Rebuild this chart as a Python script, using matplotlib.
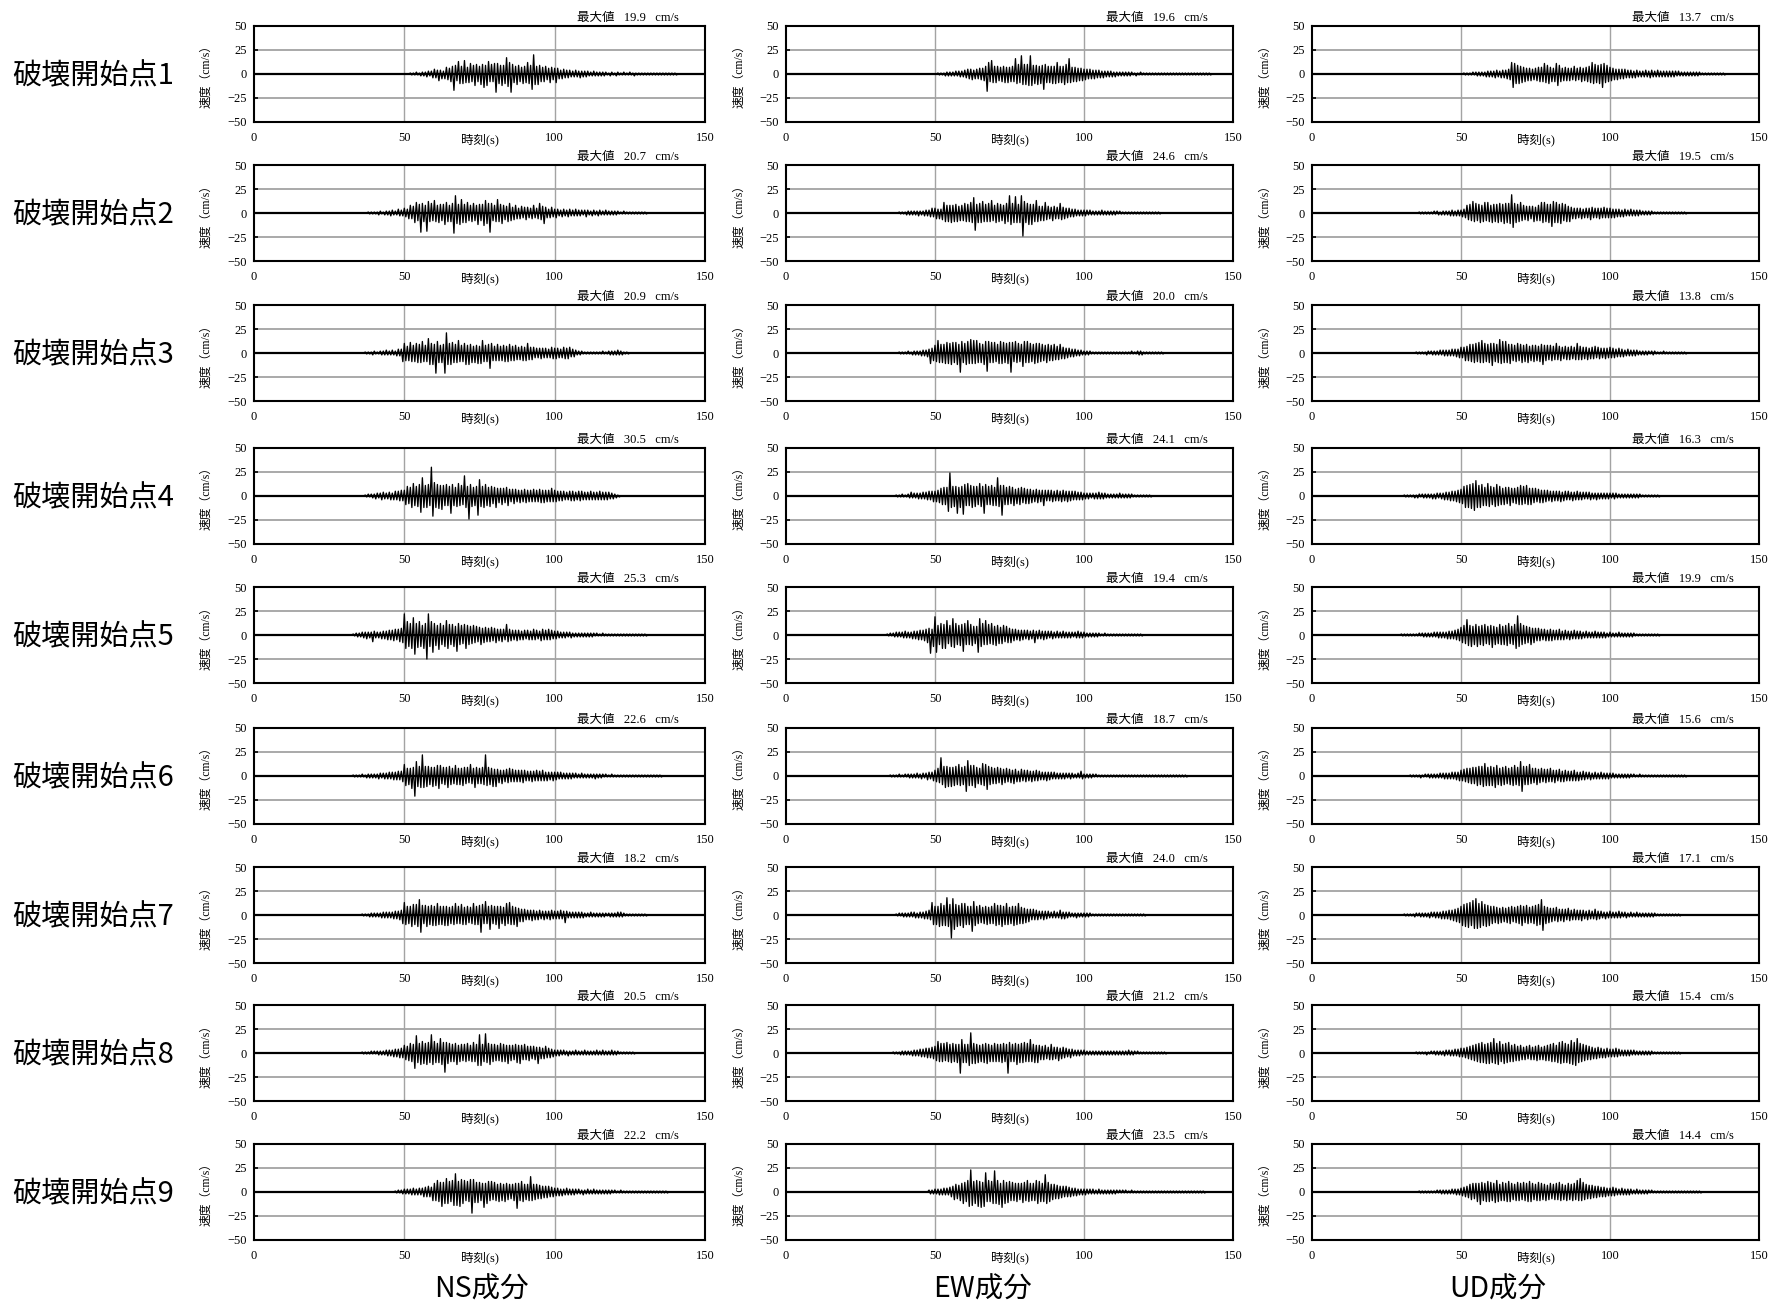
import numpy as np
import matplotlib
matplotlib.use("Agg")
import matplotlib.pyplot as plt

# ---------------- data ----------------
# Each trace: velocity peaks (cm/s), one upper and one lower
# peak per second (0.5 s step), starting at the given start time (s).
row_labels = ["破壊開始点1", "破壊開始点2", "破壊開始点3", "破壊開始点4", "破壊開始点5",
              "破壊開始点6", "破壊開始点7", "破壊開始点8", "破壊開始点9"]
col_labels = ["NS成分", "EW成分", "UD成分"]
x_ticks = [0, 50, 100, 150]
y_ticks = [-50, -25, 0, 25, 50]
y_tick_labels = ["−50", "−25", "0", "25", "50"]

ns_max = [19.9, 20.7, 20.9, 30.5, 25.3, 22.6, 18.2, 20.5, 22.2]
ew_max = [19.6, 24.6, 20.0, 24.1, 19.4, 18.7, 24.0, 21.2, 23.5]
ud_max = [13.7, 19.5, 13.8, 16.3, 19.9, 15.6, 17.1, 15.4, 14.4]

ns_start = [52, 38, 37, 37, 33, 33, 36, 36, 47]
ew_start = [51, 38, 38, 37, 34, 35, 37, 36, 48]
ud_start = [51, 36, 35, 31, 30, 33, 31, 35, 36]

ns_1 = [1,-1, 1,-1, 2,-1, 1,-2, 2,-2, 2,-3, 3,-2, 3,-4,
        5,-4, 4,-7, 4,-5, 3,-5, 7,-6, 6,-8, 8,-17, 9,-7, 13,-10, 8,-10,
        14,-9, 7,-9, 11,-8, 9,-12, 10,-8, 8,-11, 10,-14, 9,-12, 13,-8, 10,-8,
        11,-19, 11,-10, 9,-12, 9,-10, 17,-13, 12,-19, 10,-9, 8,-11, 9,-8, 7,-10,
        8,-9, 12,-10, 9,-16, 20,-11, 8,-11, 9,-8, 7,-8, 8,-6, 6,-9, 7,-6,
        6,-9, 6,-5, 4,-5, 5,-4, 4,-4, 4,-3, 3,-3, 4,-3, 3,-4, 3,-3,
        3,-3, 3,-2, 2,-2, 3,-2, 2,-2, 2,-2, 2,-2, 2,-1, 1,-2, 2,-1,
        1,-2, 2,-1, 1,-1, 2,-1, 1,-1, 2,-1, 1,-2, 1,-1, 1,-1, 1,-1,
        1,-1, 1,-1, 1,-1, 1,-1, 1,-1, 1,-1, 1,-1, 1,-1, 1,-1, 1,-1, 1,-1]
ns_2 = [1,-1, 1,-1, 1,-1, 1,-2, 2,-1, 1,-2, 2,-2, 2,-3, 3,-2, 2,-2, 4,-3, 3,-3,
        5,-4, 4,-6, 8,-6, 7,-10, 11,-8, 9,-20, 10,-9, 8,-19, 12,-9, 10,-8,
        13,-9, 8,-10, 9,-8, 9,-12, 11,-9, 8,-9, 10,-21, 18,-11, 9,-12, 14,-10,
        9,-10, 11,-8, 8,-9, 10,-8, 8,-12, 9,-8, 9,-13, 13,-11, 10,-20, 10,-8,
        8,-9, 14,-9, 9,-11, 8,-7, 7,-9, 10,-8, 6,-7, 8,-6, 5,-6, 7,-5,
        6,-7, 6,-5, 5,-6, 8,-5, 5,-6, 10,-7, 7,-11, 6,-5, 4,-5, 6,-4,
        4,-5, 4,-3, 3,-4, 4,-3, 3,-4, 4,-3, 3,-3, 4,-3, 3,-3, 3,-2,
        3,-4, 3,-2, 2,-3, 3,-2, 2,-3, 3,-2, 2,-2, 3,-2, 2,-2, 2,-2,
        2,-2, 2,-1, 1,-1, 2,-1, 1,-1, 1,-1, 1,-1, 1,-1, 1,-1, 1,-1, 1,-1]
ns_3 = [1,-1, 1,-1, 1,-2, 2,-1, 1,-1, 2,-2, 2,-2, 3,-2, 2,-2, 3,-2, 2,-3, 4,-3, 4,-9,
        10,-8, 7,-8, 11,-9, 8,-9, 10,-10, 9,-10, 12,-9, 8,-9, 15,-12, 10,-12,
        9,-21, 12,-10, 8,-10, 9,-21, 21,-12, 10,-12, 11,-10, 9,-10, 13,-9, 8,-9,
        10,-12, 8,-12, 9,-10, 7,-10, 8,-11, 7,-11, 13,-9, 8,-9, 9,-16, 10,-8,
        7,-8, 9,-8, 7,-8, 8,-9, 7,-9, 9,-8, 7,-8, 8,-7, 6,-7, 7,-8,
        6,-8, 10,-7, 6,-7, 6,-5, 5,-5, 5,-6, 5,-5, 5,-5, 4,-5, 6,-6,
        5,-6, 5,-5, 4,-5, 6,-6, 5,-6, 6,-4, 4,-4, 3,-2, 2,-2, 2,-1,
        1,-1, 1,-1, 1,-1, 1,-1, 1,-1, 1,-1, 2,-1, 1,-1, 2,-2, 2,-2,
        2,-2, 3,-2, 2,-2, 1,-1, 1,-1]
ns_4 = [1,-1, 2,-1, 2,-2, 2,-3, 3,-2, 3,-4, 4,-3, 3,-3, 4,-4, 3,-4,
        5,-4, 5,-5, 6,-5, 6,-9, 10,-8, 9,-12, 13,-10, 10,-11, 12,-17, 19,-12,
        11,-12, 12,-10, 30,-21, 14,-12, 12,-13, 11,-14, 11,-10, 12,-10, 10,-18, 12,-10,
        9,-11, 13,-10, 11,-9, 21,-12, 10,-24, 12,-11, 9,-10, 10,-20, 17,-11, 10,-12,
        12,-10, 9,-11, 10,-8, 9,-12, 8,-7, 8,-9, 8,-7, 9,-10, 7,-6, 7,-8,
        7,-6, 6,-7, 6,-6, 7,-7, 6,-6, 6,-6, 7,-6, 6,-6, 7,-7, 6,-7,
        6,-6, 6,-6, 8,-6, 6,-6, 5,-5, 5,-5, 5,-4, 4,-4, 5,-5, 5,-5,
        4,-4, 5,-5, 5,-4, 4,-4, 4,-4, 5,-4, 4,-4, 4,-4, 5,-4, 4,-4,
        4,-4, 4,-3, 3,-3, 2,-2, 1,-1]
ns_5 = [1,-1, 2,-2, 2,-2, 3,-3, 3,-4, 3,-3, 3,-7, 4,-3, 3,-3, 3,-4,
        4,-4, 4,-5, 5,-5, 5,-6, 6,-5, 6,-7, 7,-8, 22,-14, 14,-12, 12,-14,
        18,-20, 12,-13, 14,-12, 10,-14, 12,-25, 22,-12, 14,-18, 12,-11, 10,-15, 12,-10,
        10,-12, 15,-14, 11,-10, 11,-12, 9,-17, 12,-10, 10,-9, 11,-14, 10,-10, 9,-9,
        10,-8, 9,-7, 8,-10, 7,-8, 8,-7, 7,-7, 8,-6, 7,-8, 6,-6, 6,-7,
        6,-5, 11,-7, 6,-6, 5,-5, 5,-6, 5,-5, 4,-5, 5,-4, 5,-5, 4,-5,
        6,-5, 5,-4, 4,-6, 6,-5, 5,-5, 6,-5, 5,-4, 4,-4, 4,-3, 3,-3,
        3,-3, 3,-2, 3,-3, 2,-2, 2,-2, 2,-2, 2,-2, 2,-2, 2,-2, 2,-2,
        2,-1, 2,-1, 1,-1, 2,-1, 1,-1, 1,-1, 1,-1, 1,-1, 1,-1, 1,-1,
        1,-1, 1,-1, 1,-1, 1,-1, 1,-1, 1,-1, 1,-1, 1,-1]
ns_6 = [1,-1, 1,-1, 1,-1, 2,-1, 1,-2, 2,-2, 2,-2, 2,-2, 2,-3, 3,-2,
        3,-3, 3,-3, 4,-3, 4,-4, 4,-4, 5,-4, 5,-6, 12,-10, 8,-9, 8,-13,
        9,-21, 15,-11, 10,-12, 22,-12, 10,-11, 10,-9, 9,-11, 9,-10, 11,-13, 11,-8,
        9,-9, 9,-12, 10,-9, 8,-8, 11,-9, 8,-9, 8,-10, 9,-8, 9,-7, 12,-8,
        8,-12, 9,-8, 8,-8, 9,-9, 22,-10, 9,-9, 8,-11, 7,-11, 7,-7, 6,-8,
        6,-6, 7,-7, 8,-6, 7,-6, 6,-6, 6,-6, 6,-7, 6,-5, 5,-5, 5,-6,
        5,-5, 6,-5, 5,-5, 6,-5, 4,-5, 4,-4, 4,-5, 4,-4, 4,-3, 4,-3,
        3,-3, 3,-3, 3,-3, 3,-2, 3,-2, 2,-2, 3,-2, 2,-2, 2,-2, 2,-2,
        2,-3, 2,-2, 2,-2, 2,-1, 2,-1, 1,-1, 2,-1, 1,-1, 1,-1, 1,-1,
        1,-1, 1,-1, 1,-1, 1,-1, 1,-1, 1,-1, 1,-1, 1,-1, 1,-1, 1,-1, 1,-1, 1,-1, 1,-1]
ns_7 = [1,-1, 1,-1, 1,-2, 2,-2, 2,-2, 2,-2, 2,-3, 3,-3, 3,-3, 3,-3,
        3,-4, 4,-4, 4,-5, 5,-9, 13,-10, 9,-9, 9,-12, 11,-10, 11,-12, 16,-18,
        10,-9, 10,-12, 9,-10, 10,-11, 9,-11, 12,-10, 9,-10, 9,-11, 9,-11, 8,-9,
        9,-10, 12,-9, 9,-9, 11,-10, 8,-10, 9,-8, 8,-9, 12,-10, 9,-10, 10,-18,
        11,-9, 14,-9, 9,-15, 10,-9, 9,-10, 9,-14, 9,-9, 8,-11, 12,-9, 13,-10,
        9,-10, 8,-12, 7,-7, 6,-7, 6,-5, 5,-5, 5,-6, 5,-5, 4,-5, 5,-4,
        4,-5, 4,-4, 4,-5, 5,-4, 4,-4, 4,-4, 5,-4, 4,-8, 4,-3, 3,-3,
        3,-3, 3,-3, 3,-3, 3,-3, 2,-2, 2,-2, 3,-2, 2,-2, 2,-2, 2,-2,
        2,-2, 2,-1, 2,-2, 2,-2, 2,-2, 3,-2, 3,-2, 2,-1, 1,-1, 1,-1,
        1,-1, 1,-1, 1,-1, 1,-1, 1,-1]
ns_8 = [1,-1, 1,-1, 1,-1, 2,-1, 2,-1, 2,-2, 2,-2, 2,-2, 3,-3, 3,-3,
        3,-4, 4,-4, 4,-5, 5,-5, 8,-7, 7,-8, 10,-9, 9,-16, 18,-10, 10,-12,
        12,-11, 10,-12, 11,-10, 19,-12, 12,-10, 10,-10, 15,-12, 11,-20, 11,-11, 10,-9,
        9,-9, 10,-12, 8,-9, 9,-8, 9,-9, 10,-8, 8,-9, 11,-9, 9,-13, 19,-13,
        9,-9, 20,-10, 10,-12, 9,-9, 9,-8, 8,-8, 10,-9, 9,-9, 8,-11, 8,-8,
        8,-7, 9,-10, 8,-11, 8,-7, 9,-7, 7,-8, 7,-6, 7,-7, 6,-11, 6,-6,
        5,-6, 7,-5, 5,-5, 4,-4, 3,-3, 3,-3, 3,-2, 3,-2, 2,-3, 2,-2,
        2,-2, 3,-2, 2,-2, 2,-2, 3,-2, 2,-2, 2,-2, 2,-2, 3,-2, 2,-2,
        3,-2, 2,-2, 2,-2, 3,-2, 2,-2, 2,-1, 1,-1, 1,-1, 1,-1, 1,-1, 1,-1]
ns_9 = [1,-1, 2,-1, 2,-2, 3,-2, 3,-2, 3,-3, 4,-3, 3,-3, 4,-3, 4,-5,
        5,-5, 6,-5, 5,-9, 9,-9, 12,-10, 10,-15, 10,-12, 14,-12, 11,-10, 12,-14,
        19,-14, 11,-15, 13,-12, 12,-9, 11,-10, 13,-22, 13,-11, 10,-11, 10,-9, 9,-16,
        9,-12, 11,-9, 11,-8, 10,-9, 8,-10, 9,-9, 8,-10, 9,-8, 8,-7, 8,-9,
        9,-17, 9,-9, 11,-10, 8,-8, 8,-9, 16,-9, 8,-8, 8,-7, 7,-7, 6,-6,
        6,-6, 6,-5, 5,-5, 4,-4, 4,-4, 3,-4, 3,-3, 4,-3, 3,-3, 3,-3,
        3,-2, 3,-2, 2,-3, 2,-2, 3,-2, 2,-2, 3,-2, 2,-2, 2,-2, 2,-2,
        2,-2, 2,-2, 2,-1, 2,-1, 1,-1, 2,-1, 1,-1, 1,-1, 1,-1, 1,-1,
        1,-1, 1,-1, 1,-1, 1,-1, 1,-1, 1,-1, 1,-1, 1,-1, 1,-1, 1,-1, 1,-1]

ew_1 = [1,-1, 1,-1, 1,-2, 2,-2, 2,-2, 2,-2, 3,-2, 3,-3, 3,-3, 4,-4,
        5,-5, 5,-6, 4,-5, 5,-5, 6,-6, 6,-7, 8,-18, 12,-8, 14,-9, 8,-9,
        8,-7, 7,-8, 8,-9, 7,-9, 7,-8, 8,-8, 16,-10, 10,-9, 19,-11, 10,-11,
        10,-12, 19,-12, 9,-10, 9,-11, 8,-10, 9,-16, 10,-9, 8,-9, 8,-10, 8,-10,
        12,-9, 8,-9, 8,-11, 10,-9, 16,-9, 7,-8, 7,-8, 6,-7, 6,-7, 5,-6,
        5,-5, 5,-5, 4,-5, 4,-4, 4,-4, 3,-4, 3,-3, 3,-3, 3,-3, 2,-3,
        2,-2, 2,-2, 2,-2, 2,-2, 2,-2, 2,-1, 1,-2, 1,-1, 2,-1, 1,-1,
        1,-1, 1,-1, 1,-1, 1,-1, 1,-1, 1,-1, 1,-1, 1,-1, 1,-1, 1,-1,
        1,-1, 1,-1, 1,-1, 1,-1, 1,-1, 1,-1, 1,-1, 1,-1, 1,-1, 1,-1, 1,-1, 1,-1]
ew_2 = [1,-1, 1,-1, 1,-2, 2,-2, 2,-2, 2,-2, 2,-3, 2,-2, 2,-3, 3,-3,
        3,-4, 5,-4, 5,-6, 4,-6, 4,-7, 11,-9, 8,-9, 8,-10, 8,-9, 9,-9,
        7,-8, 8,-8, 10,-9, 9,-9, 11,-10, 16,-18, 9,-10, 10,-10, 12,-9, 9,-9,
        10,-9, 13,-8, 8,-10, 10,-9, 9,-8, 8,-11, 10,-9, 18,-12, 10,-10, 17,-10,
        9,-10, 18,-24, 12,-10, 10,-12, 9,-12, 9,-9, 13,-9, 7,-8, 7,-8, 11,-7,
        7,-6, 6,-8, 7,-6, 6,-6, 10,-7, 6,-6, 5,-5, 5,-4, 4,-4, 4,-3,
        3,-3, 3,-3, 3,-3, 3,-2, 3,-2, 2,-2, 2,-2, 2,-2, 3,-2, 2,-2,
        2,-2, 2,-2, 2,-2, 2,-1, 2,-1, 1,-1, 1,-1, 1,-1, 1,-1, 1,-1,
        1,-1, 1,-1, 1,-1, 1,-1, 1,-1, 1,-1, 1,-1, 1,-1]
ew_3 = [1,-1, 1,-1, 1,-1, 2,-1, 1,-2, 2,-2, 2,-2, 2,-3, 3,-3, 3,-4,
        4,-11, 5,-8, 8,-9, 13,-10, 9,-10, 9,-11, 11,-11, 10,-12, 11,-10, 11,-12,
        9,-20, 12,-10, 10,-12, 12,-11, 14,-11, 13,-11, 13,-10, 10,-10, 9,-12, 12,-19,
        12,-10, 11,-10, 11,-9, 9,-11, 12,-11, 11,-10, 10,-11, 11,-20, 11,-9, 12,-10,
        10,-9, 9,-14, 12,-10, 12,-10, 10,-9, 9,-11, 10,-10, 10,-9, 9,-8, 8,-10,
        9,-8, 8,-8, 9,-7, 7,-7, 9,-6, 6,-6, 5,-5, 5,-4, 4,-4, 4,-3,
        3,-3, 3,-2, 2,-2, 2,-2, 2,-1, 1,-1, 1,-1, 1,-1, 1,-1, 1,-1,
        1,-1, 1,-1, 1,-1, 1,-1, 1,-1, 1,-1, 1,-1, 1,-1, 2,-1, 1,-1,
        2,-2, 2,-2, 1,-1, 1,-1, 1,-1, 1,-1, 1,-1, 1,-1, 1,-1]
ew_4 = [1,-1, 1,-1, 2,-1, 1,-1, 2,-2, 4,-2, 3,-2, 3,-3, 3,-3, 4,-3,
        4,-4, 5,-4, 5,-6, 5,-6, 6,-7, 8,-9, 9,-9, 9,-16, 24,-12, 10,-11,
        10,-18, 9,-12, 10,-19, 12,-10, 13,-10, 11,-12, 10,-11, 10,-9, 13,-11, 10,-18,
        12,-9, 10,-9, 11,-10, 9,-10, 19,-11, 11,-20, 11,-9, 9,-9, 10,-8, 9,-10,
        7,-8, 8,-9, 9,-7, 8,-8, 7,-8, 7,-7, 6,-6, 7,-7, 6,-6, 6,-10,
        6,-5, 6,-5, 6,-6, 5,-5, 6,-5, 5,-6, 6,-5, 5,-6, 5,-5, 5,-4,
        5,-4, 4,-4, 4,-4, 3,-3, 3,-3, 3,-2, 3,-3, 3,-3, 4,-3, 3,-3,
        3,-2, 2,-2, 2,-2, 2,-2, 2,-2, 3,-2, 2,-2, 2,-2, 2,-2, 2,-1,
        1,-1, 1,-1, 1,-1, 1,-1, 1,-1, 1,-1]
ew_5 = [1,-1, 2,-1, 2,-2, 3,-2, 3,-2, 3,-3, 4,-3, 3,-3, 3,-4, 4,-4,
        4,-5, 5,-5, 5,-6, 6,-8, 7,-19, 6,-12, 19,-18, 10,-10, 12,-14, 11,-14,
        15,-9, 10,-12, 17,-13, 12,-10, 10,-11, 11,-17, 12,-10, 15,-10, 11,-11, 9,-9,
        9,-18, 17,-12, 12,-10, 15,-10, 11,-9, 12,-10, 9,-11, 10,-9, 8,-9, 10,-7,
        9,-8, 7,-8, 6,-6, 6,-5, 5,-6, 5,-5, 5,-4, 5,-5, 4,-4, 5,-8,
        4,-4, 5,-4, 4,-5, 4,-4, 4,-3, 4,-4, 3,-3, 4,-3, 3,-3, 4,-3,
        3,-3, 3,-3, 3,-2, 3,-3, 4,-3, 3,-3, 3,-2, 2,-2, 2,-2, 2,-2,
        2,-2, 2,-1, 1,-1, 2,-1, 1,-1, 1,-1, 1,-1, 1,-1, 1,-1, 1,-1,
        1,-1, 1,-1, 1,-1, 1,-1, 1,-1, 1,-1]
ew_6 = [1,-1, 1,-1, 1,-1, 2,-1, 1,-1, 2,-1, 2,-2, 2,-2, 2,-2, 3,-2,
        2,-3, 3,-2, 3,-4, 4,-3, 4,-5, 6,-6, 8,-7, 19,-9, 10,-12, 10,-11,
        9,-11, 9,-10, 10,-9, 12,-10, 9,-9, 10,-16, 16,-10, 11,-10, 11,-12, 9,-8,
        8,-9, 13,-10, 12,-14, 10,-9, 9,-8, 8,-8, 9,-7, 8,-9, 7,-7, 8,-6,
        7,-7, 6,-8, 7,-6, 5,-6, 7,-5, 6,-6, 6,-5, 5,-6, 5,-5, 6,-5,
        5,-4, 4,-4, 4,-5, 4,-4, 4,-3, 4,-3, 3,-3, 3,-3, 3,-3, 3,-2,
        3,-3, 3,-2, 2,-2, 3,-2, 5,-3, 2,-2, 2,-2, 2,-2, 2,-1, 2,-1,
        1,-1, 1,-1, 1,-1, 1,-1, 1,-1, 1,-1, 1,-1, 1,-1, 1,-1, 1,-1,
        1,-1, 1,-1, 1,-1, 1,-1, 1,-1, 1,-1, 1,-1, 1,-1, 1,-1, 1,-1,
        1,-1, 1,-1, 1,-1, 1,-1, 1,-1, 1,-1, 1,-1, 1,-1, 1,-1, 1,-1]
ew_7 = [1,-1, 2,-1, 2,-2, 2,-2, 2,-2, 3,-2, 3,-3, 2,-3, 3,-3, 3,-4,
        4,-4, 5,-5, 13,-10, 9,-10, 9,-12, 12,-11, 10,-11, 18,-12, 11,-24, 17,-15,
        11,-12, 10,-11, 12,-13, 12,-10, 9,-10, 9,-17, 14,-11, 9,-9, 10,-8, 8,-9,
        9,-10, 8,-9, 9,-9, 12,-11, 10,-10, 10,-12, 9,-10, 12,-10, 8,-9, 9,-11,
        9,-10, 12,-9, 8,-9, 7,-8, 6,-7, 6,-5, 6,-5, 5,-5, 4,-4, 4,-5,
        4,-4, 4,-3, 3,-3, 4,-3, 3,-3, 5,-4, 3,-4, 3,-3, 3,-2, 2,-2,
        2,-3, 2,-2, 2,-2, 2,-2, 2,-2, 2,-1, 1,-1, 1,-1, 1,-1, 1,-1,
        1,-1, 1,-1, 1,-1, 1,-1, 1,-1, 1,-1, 1,-1, 1,-1, 1,-1, 1,-1,
        1,-1, 1,-1, 1,-1, 1,-1]
ew_8 = [1,-1, 1,-1, 1,-2, 2,-2, 2,-2, 2,-2, 2,-3, 3,-3, 3,-3, 4,-4,
        4,-4, 5,-5, 5,-5, 6,-6, 7,-8, 12,-9, 10,-9, 10,-8, 11,-9, 9,-10,
        10,-9, 9,-10, 9,-21, 14,-10, 9,-10, 9,-13, 21,-11, 10,-11, 9,-10, 8,-9,
        9,-10, 10,-11, 9,-9, 8,-9, 10,-9, 9,-9, 9,-10, 10,-9, 9,-21, 11,-9,
        9,-9, 10,-12, 9,-10, 10,-10, 11,-9, 10,-9, 14,-9, 9,-10, 8,-10, 8,-7,
        7,-7, 8,-6, 6,-7, 9,-7, 6,-6, 6,-8, 5,-6, 6,-5, 5,-4, 4,-5,
        4,-3, 3,-3, 3,-3, 3,-2, 3,-2, 2,-2, 2,-2, 2,-2, 2,-2, 2,-2,
        2,-2, 2,-2, 2,-2, 2,-2, 2,-2, 2,-2, 2,-2, 2,-2, 2,-2, 3,-2,
        2,-2, 2,-1, 2,-1, 1,-1, 1,-1, 1,-1, 1,-1, 1,-1, 1,-1, 1,-1, 1,-1, 1,-1]
ew_9 = [2,-2, 2,-2, 3,-2, 3,-3, 3,-3, 4,-3, 4,-3, 5,-5, 6,-8, 8,-7,
        7,-9, 9,-12, 10,-10, 12,-15, 23,-14, 11,-12, 12,-15, 11,-16, 10,-15, 20,-10,
        12,-10, 11,-12, 22,-12, 12,-13, 9,-16, 12,-12, 10,-11, 11,-9, 10,-9, 9,-10,
        9,-8, 9,-11, 10,-9, 12,-10, 9,-9, 9,-9, 12,-12, 11,-10, 9,-10, 18,-12,
        10,-10, 8,-8, 8,-7, 7,-7, 6,-6, 6,-5, 6,-5, 5,-5, 4,-4, 4,-4,
        3,-3, 3,-3, 3,-3, 3,-2, 3,-2, 3,-2, 2,-2, 3,-2, 2,-2, 2,-2,
        2,-2, 2,-2, 2,-2, 2,-1, 2,-1, 2,-1, 2,-1, 1,-1, 2,-1, 1,-1,
        1,-1, 1,-1, 1,-1, 1,-1, 1,-1, 1,-1, 1,-1, 1,-1, 1,-1, 1,-1,
        1,-1, 1,-1, 1,-1, 1,-1, 1,-1, 1,-1, 1,-1, 1,-1, 1,-1, 1,-1,
        1,-1, 1,-1, 1,-1]

ud_1 = [1,-1, 1,-1, 1,-1, 2,-1, 2,-2, 2,-2, 2,-2, 2,-3, 3,-3, 3,-3,
        3,-4, 4,-3, 3,-4, 4,-4, 4,-5, 5,-6, 12,-14, 11,-10, 9,-10, 8,-9,
        7,-8, 6,-7, 6,-7, 5,-6, 6,-7, 7,-8, 7,-8, 11,-9, 9,-10, 7,-8,
        6,-8, 11,-12, 9,-8, 6,-7, 7,-7, 6,-7, 6,-6, 8,-7, 6,-6, 7,-8,
        6,-7, 7,-8, 8,-9, 12,-10, 10,-9, 9,-10, 10,-14, 11,-9, 9,-8, 7,-7,
        6,-6, 5,-6, 5,-5, 5,-5, 5,-4, 4,-4, 4,-4, 3,-4, 4,-3, 3,-3,
        3,-3, 4,-3, 3,-4, 4,-3, 3,-3, 4,-3, 3,-3, 3,-3, 3,-3, 3,-3,
        3,-3, 3,-2, 3,-2, 2,-2, 2,-2, 2,-2, 2,-2, 2,-2, 2,-2, 2,-1,
        1,-1, 1,-1, 1,-1, 1,-1, 1,-1, 1,-1, 1,-1, 1,-1]
ud_2 = [1,-1, 1,-1, 1,-1, 1,-1, 1,-1, 2,-1, 2,-2, 1,-2, 2,-2, 2,-2,
        2,-3, 3,-3, 2,-3, 3,-3, 3,-4, 4,-5, 8,-7, 9,-8, 12,-9, 10,-8,
        9,-10, 8,-9, 11,-8, 11,-9, 8,-10, 9,-9, 9,-10, 10,-9, 9,-11, 10,-10,
        10,-11, 19,-15, 10,-10, 9,-9, 11,-8, 8,-7, 7,-8, 7,-6, 7,-9, 6,-8,
        8,-8, 11,-10, 11,-9, 9,-10, 9,-14, 12,-10, 11,-10, 9,-11, 10,-8, 9,-9,
        7,-9, 6,-6, 5,-6, 5,-5, 5,-6, 4,-5, 5,-5, 5,-7, 6,-5, 5,-5,
        5,-6, 5,-5, 6,-5, 5,-5, 5,-5, 4,-5, 4,-4, 4,-4, 3,-4, 4,-3,
        3,-3, 4,-3, 3,-3, 3,-3, 3,-2, 2,-2, 2,-2, 2,-2, 2,-1, 1,-1,
        1,-1, 1,-1, 1,-1, 1,-1, 1,-1, 1,-1, 1,-1, 1,-1, 1,-1, 1,-1]
ud_3 = [1,-1, 1,-1, 1,-1, 1,-2, 2,-1, 2,-2, 2,-2, 2,-2, 3,-2, 3,-3,
        3,-3, 3,-3, 4,-3, 4,-4, 4,-5, 6,-5, 6,-8, 7,-8, 9,-9, 9,-10,
        10,-9, 11,-10, 13,-10, 10,-9, 9,-10, 10,-13, 10,-9, 9,-10, 14,-11, 12,-10,
        12,-10, 9,-11, 9,-8, 8,-9, 10,-8, 9,-10, 8,-9, 9,-10, 7,-8, 8,-9,
        8,-8, 7,-9, 9,-12, 8,-8, 8,-7, 8,-8, 7,-7, 10,-7, 7,-8, 6,-6,
        7,-7, 6,-7, 7,-6, 6,-7, 10,-7, 7,-7, 6,-6, 6,-7, 5,-6, 6,-6,
        7,-5, 6,-6, 5,-5, 5,-6, 5,-5, 6,-5, 5,-5, 4,-4, 5,-4, 4,-4,
        3,-3, 4,-3, 3,-3, 3,-3, 3,-2, 2,-2, 2,-2, 2,-2, 2,-1, 2,-2,
        2,-1, 1,-1, 1,-1, 2,-1, 1,-1, 1,-1, 1,-1, 1,-1, 1,-1, 1,-1, 1,-1]
ud_4 = [1,-1, 1,-1, 1,-1, 1,-2, 1,-2, 2,-1, 2,-2, 2,-2, 2,-2, 2,-3,
        2,-3, 3,-2, 3,-3, 3,-4, 4,-4, 4,-5, 5,-5, 5,-6, 6,-7, 7,-8,
        10,-12, 11,-12, 12,-13, 13,-15, 16,-12, 11,-12, 12,-10, 9,-10, 13,-11, 10,-9,
        9,-11, 12,-10, 10,-9, 8,-9, 9,-8, 9,-10, 8,-7, 8,-8, 9,-9, 11,-9,
        10,-8, 11,-9, 8,-9, 8,-7, 8,-6, 7,-7, 6,-7, 6,-6, 6,-5, 5,-6,
        5,-5, 5,-5, 5,-6, 4,-5, 5,-4, 5,-4, 4,-5, 4,-4, 5,-4, 4,-4,
        4,-3, 4,-3, 4,-4, 3,-3, 3,-4, 3,-3, 3,-3, 3,-3, 3,-3, 3,-2,
        3,-3, 3,-2, 2,-2, 2,-2, 2,-2, 2,-2, 2,-2, 2,-2, 2,-2, 2,-1,
        1,-1, 1,-1, 1,-1, 1,-1, 1,-1, 1,-1]
ud_5 = [1,-1, 1,-1, 1,-1, 1,-1, 1,-1, 1,-1, 2,-1, 2,-2, 2,-2, 2,-2,
        2,-2, 3,-2, 3,-3, 3,-3, 3,-3, 3,-4, 4,-4, 4,-4, 5,-5, 6,-6,
        8,-8, 10,-9, 16,-11, 10,-12, 9,-10, 11,-12, 9,-10, 10,-11, 11,-9, 9,-10,
        10,-13, 9,-10, 8,-9, 11,-10, 9,-10, 10,-11, 12,-9, 9,-10, 11,-14, 20,-12,
        12,-10, 10,-9, 9,-8, 8,-10, 7,-8, 7,-6, 7,-6, 6,-5, 6,-6, 5,-6,
        6,-6, 5,-5, 5,-5, 6,-5, 4,-5, 5,-4, 4,-5, 4,-4, 5,-4, 4,-4,
        4,-4, 3,-3, 4,-3, 3,-3, 3,-3, 4,-3, 3,-3, 3,-3, 3,-3, 2,-2,
        3,-2, 2,-2, 2,-2, 3,-2, 2,-2, 2,-2, 2,-2, 2,-2, 2,-1, 1,-1,
        1,-1, 1,-1, 1,-1, 1,-1, 1,-1, 1,-1, 1,-1]
ud_6 = [1,-1, 1,-1, 1,-1, 1,-2, 1,-1, 2,-1, 2,-2, 2,-2, 2,-2, 2,-2,
        3,-2, 3,-3, 3,-3, 3,-3, 4,-3, 4,-4, 4,-5, 6,-5, 7,-6, 8,-7,
        8,-8, 9,-8, 9,-10, 10,-9, 10,-11, 13,-10, 9,-10, 10,-10, 9,-12, 11,-9,
        8,-10, 9,-9, 10,-8, 8,-9, 9,-10, 11,-9, 9,-10, 15,-16, 10,-9, 10,-9,
        12,-8, 8,-7, 8,-9, 7,-7, 8,-6, 7,-7, 7,-6, 8,-6, 6,-7, 6,-5,
        7,-6, 5,-6, 6,-5, 5,-5, 5,-5, 6,-5, 4,-5, 4,-4, 5,-4, 4,-3,
        4,-4, 3,-3, 4,-3, 3,-3, 4,-3, 3,-3, 3,-3, 3,-2, 3,-2, 2,-2,
        2,-2, 2,-2, 2,-2, 2,-2, 2,-1, 2,-1, 1,-1, 2,-1, 1,-1, 1,-1,
        1,-1, 1,-1, 1,-1, 1,-1, 1,-1, 1,-1, 1,-1, 1,-1, 1,-1, 1,-1,
        1,-1, 1,-1, 1,-1]
ud_7 = [1,-1, 1,-1, 1,-1, 1,-2, 2,-1, 2,-2, 2,-2, 2,-2, 2,-3, 3,-2,
        3,-3, 3,-3, 3,-4, 4,-4, 4,-4, 5,-5, 5,-6, 6,-7, 7,-8, 9,-11,
        11,-12, 12,-13, 13,-11, 15,-14, 17,-14, 12,-13, 14,-11, 11,-12, 10,-11, 9,-9,
        9,-8, 8,-9, 7,-8, 8,-7, 7,-8, 8,-9, 9,-7, 8,-8, 9,-9, 10,-11,
        9,-8, 10,-9, 8,-8, 9,-9, 10,-11, 11,-10, 16,-16, 9,-9, 8,-8, 7,-7,
        7,-6, 8,-7, 6,-6, 6,-7, 6,-5, 7,-6, 5,-5, 6,-5, 5,-5, 5,-6,
        5,-4, 4,-5, 5,-4, 4,-4, 6,-5, 4,-4, 4,-3, 3,-4, 3,-3, 4,-3,
        3,-3, 3,-3, 4,-3, 3,-2, 3,-3, 2,-2, 3,-2, 2,-2, 3,-2, 2,-2,
        2,-2, 2,-2, 2,-2, 2,-2, 2,-1, 1,-1, 1,-1, 1,-1, 1,-1, 1,-1,
        1,-1, 1,-1, 1,-1]
ud_8 = [1,-1, 1,-1, 1,-1, 1,-2, 1,-1, 2,-1, 2,-2, 2,-2, 2,-2, 2,-3,
        3,-2, 3,-3, 3,-3, 4,-3, 4,-4, 5,-4, 5,-5, 6,-6, 7,-7, 8,-8,
        9,-9, 10,-10, 11,-10, 9,-11, 10,-11, 11,-10, 15,-11, 10,-12, 12,-9, 9,-11,
        10,-10, 11,-9, 8,-9, 9,-8, 7,-8, 8,-7, 6,-7, 7,-6, 8,-7, 6,-7,
        7,-8, 8,-7, 6,-7, 7,-8, 8,-8, 9,-9, 10,-9, 8,-10, 11,-11, 12,-10,
        10,-10, 9,-11, 13,-12, 11,-13, 15,-10, 10,-9, 9,-8, 8,-7, 7,-7, 6,-6,
        5,-6, 6,-5, 5,-5, 4,-5, 5,-4, 4,-4, 4,-4, 5,-4, 4,-3, 3,-3,
        3,-3, 3,-3, 3,-2, 3,-2, 2,-2, 2,-2, 2,-2, 2,-2, 2,-2, 2,-1,
        1,-1, 1,-1, 1,-1, 1,-1, 1,-1, 1,-1, 1,-1, 1,-1, 1,-1]
ud_9 = [1,-1, 1,-1, 1,-1, 1,-1, 1,-1, 1,-1, 2,-1, 2,-2, 2,-2, 2,-2,
        2,-2, 3,-2, 3,-3, 3,-3, 4,-4, 5,-5, 6,-6, 8,-8, 9,-7, 9,-10,
        9,-13, 10,-9, 9,-10, 11,-10, 10,-9, 9,-11, 12,-10, 8,-9, 10,-9, 9,-10,
        11,-10, 9,-8, 8,-9, 10,-9, 9,-8, 10,-9, 9,-10, 11,-10, 9,-8, 8,-9,
        10,-9, 9,-8, 8,-9, 7,-8, 9,-7, 8,-8, 9,-8, 10,-9, 8,-8, 7,-9,
        9,-8, 8,-9, 9,-8, 12,-9, 14,-9, 10,-8, 8,-7, 7,-7, 7,-6, 6,-6,
        6,-5, 5,-5, 5,-5, 4,-4, 4,-4, 5,-4, 4,-3, 3,-3, 4,-3, 3,-3,
        3,-3, 3,-2, 2,-2, 3,-2, 2,-2, 2,-2, 2,-2, 2,-1, 2,-1, 1,-1,
        1,-1, 1,-1, 1,-1, 1,-1, 1,-1, 1,-1, 1,-1, 1,-1, 1,-1, 1,-1,
        1,-1, 1,-1, 1,-1, 1,-1, 1,-1]

ns_waves = [ns_1, ns_2, ns_3, ns_4, ns_5, ns_6, ns_7, ns_8, ns_9]
ew_waves = [ew_1, ew_2, ew_3, ew_4, ew_5, ew_6, ew_7, ew_8, ew_9]
ud_waves = [ud_1, ud_2, ud_3, ud_4, ud_5, ud_6, ud_7, ud_8, ud_9]
sample_step = 0.5

waves = [ns_waves, ew_waves, ud_waves]
starts = [ns_start, ew_start, ud_start]
maxes = [ns_max, ew_max, ud_max]

# ---------------- layout ----------------
W, H = 1769, 1307
fig = plt.figure(figsize=(W / 100, H / 100), dpi=100)
fig.patch.set_facecolor("white")

col_left = [254, 786, 1312]
col_w = [451, 447, 447]
row_top = [26, 165, 305, 448, 587, 728, 867, 1005, 1144]
ah = 96

serif = ["Liberation Serif", "Noto Sans CJK JP"]
sans = ["Noto Sans CJK JP", "DejaVu Sans"]
plt.rcParams["font.family"] = serif

grid_c = "#a3a3a3"

for r in range(9):
    for c in range(3):
        ax = fig.add_axes([col_left[c] / W, 1 - (row_top[r] + ah) / H, col_w[c] / W, ah / H])
        for yv in (25, -25):
            ax.axhline(yv, color=grid_c, lw=1.3, zorder=1)
        for xv in (50, 100):
            ax.axvline(xv, color=grid_c, lw=1.0, zorder=1)
        ax.axhline(0, color="black", lw=1.6, zorder=2)
        vals = np.asarray(waves[c][r], dtype=float)
        t0 = starts[c][r]
        t = t0 + sample_step * np.arange(len(vals))
        tt = np.concatenate([[0, t0 - 0.5], t, [t[-1] + 0.5, 150]])
        vv = np.concatenate([[0, 0], vals, [0, 0]])
        ax.plot(tt, vv, color="black", lw=0.95, zorder=3)

        ax.set_xlim(0, 150)
        ax.set_ylim(-50, 50)
        ax.set_xticks(x_ticks)
        ax.set_yticks(y_ticks)
        ax.set_yticklabels(y_tick_labels)
        ax.tick_params(axis="x", length=0, pad=7, labelsize=9)
        ax.tick_params(axis="y", direction="in", length=3, width=1.2, pad=5, labelsize=9)
        for sp in ax.spines.values():
            sp.set_linewidth(1.5)
            sp.set_color("black")

        ax.text(0.5, -0.185, "時刻(s)", transform=ax.transAxes, ha="center", va="center",
                fontsize=9, family=serif)
        ax.text(-0.105, 0.5, "速度（cm/s）", transform=ax.transAxes, ha="center", va="center",
                rotation=90, fontsize=8.5, family=serif)
        ax.text(0.83, 1.085, f"最大値   {maxes[c][r]:.1f}   cm/s", transform=ax.transAxes,
                ha="center", va="center", fontsize=9, family=serif)

    yc = row_top[r] + ah / 2 + 2
    fig.text(12 / W, 1 - yc / H, row_labels[r], ha="left", va="center", fontsize=21, family=sans)

col_label_x = [481, 982, 1498]
for c in range(3):
    fig.text(col_label_x[c] / W, 1 - 1290 / H, col_labels[c], ha="center", va="center",
             fontsize=20.5, family=sans)

fig.savefig("out.png", dpi=100, facecolor="white")
